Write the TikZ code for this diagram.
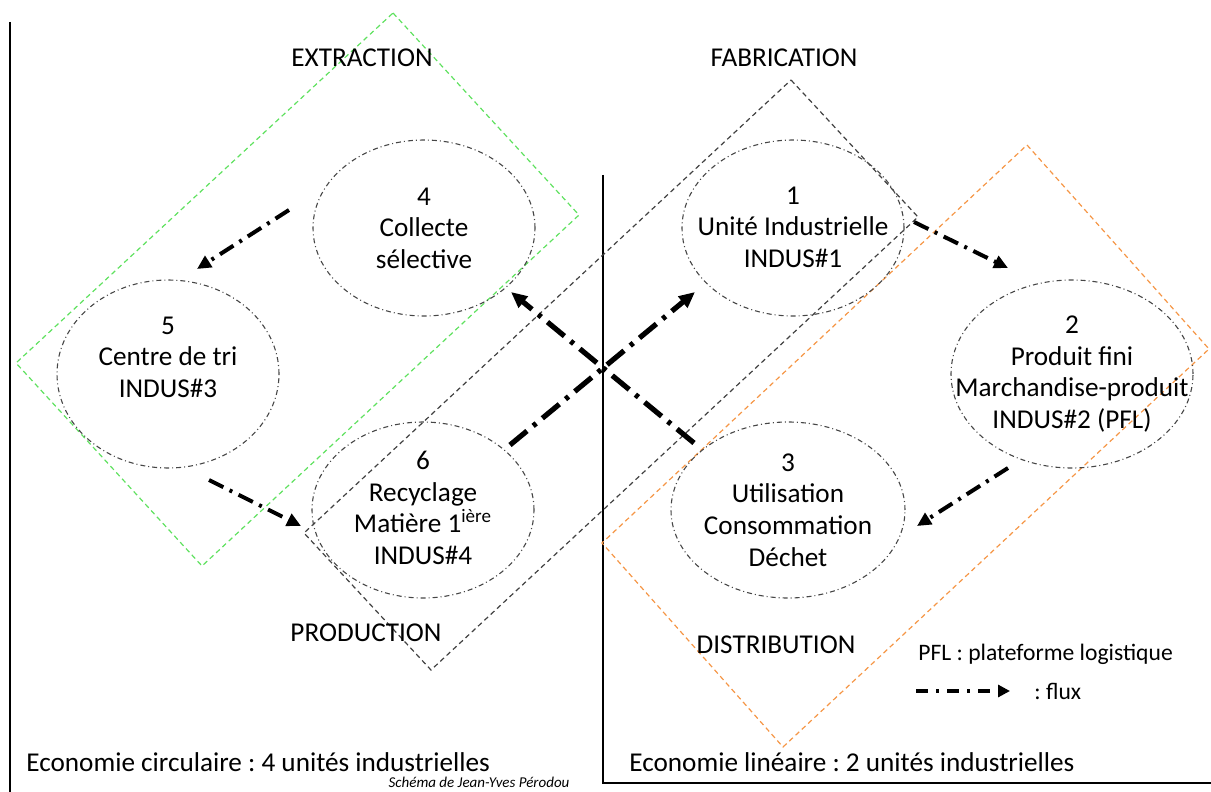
\documentclass[tikz,border=0pt]{standalone}
\usepackage{fontspec}
\setmainfont{Carlito}
\frenchspacing
\usetikzlibrary{arrows.meta,shapes.geometric}
\definecolor{gzone}{RGB}{95,225,95}
\definecolor{ozone}{RGB}{245,150,70}
\definecolor{kzone}{RGB}{65,65,65}
\definecolor{ell}{RGB}{70,70,70}
\tikzset{
  zone/.style={line width=0.6pt, dash pattern=on 2.5pt off 1.8pt},
  unit/.style={draw=ell, ellipse, line width=0.55pt, dash pattern=on 2.5pt off 1.5pt on 0.5pt off 1.5pt, inner sep=0pt},
  lbl/.style={align=center, font=\fontsize{13.6}{15.8}\selectfont, inner sep=0pt},
  hdr/.style={font=\fontsize{13.6}{15}\selectfont, inner sep=0pt},
  flux/.style={line width=2pt, dash pattern=on 8pt off 3.5pt on 1.5pt off 3.5pt, -{Triangle[length=7pt,width=6.5pt]}},
  fluxb/.style={line width=2.6pt, dash pattern=on 11pt off 4pt on 2pt off 4pt, -{Triangle[length=8pt,width=7pt]}},
  frame/.style={line width=1pt, black}
}
\begin{document}
\begin{tikzpicture}[x=0.5pt,y=-0.5pt]
\useasboundingbox (0,0) rectangle (1211,792);
\clip (0,0) rectangle (1211,792);
% frames
\coordinate (fl1) at (10,22); \coordinate (fl2) at (10,792);
\draw[frame] (fl1) -- (fl2);
\coordinate (fr1) at (603,175); \coordinate (fr2) at (603,783); \coordinate (fr3) at (1211,783);
\draw[frame] (fr1) -- (fr2) -- (fr3);
% zones
\draw[zone, draw=gzone] (393,13) -- (579,215) -- (202,566) -- (16,363) -- cycle;
\draw[zone, draw=kzone] (791,80) -- (918,217) -- (431,670) -- (304,533) -- cycle;
\draw[zone, draw=ozone] (1027,145) -- (1209,349) -- (783,747) -- (602,543) -- cycle;
% zone titles
\node[hdr] (extr) at (362,58) {EXTRACTION};
\node[hdr] (fabr) at (784,58) {FABRICATION};
\node[hdr] (prod) at (366,633) {PRODUCTION};
\node[hdr] (dist) at (776,645) {DISTRIBUTION};
% units
\node[unit, minimum width=111pt, minimum height=88pt] (e4) at (424,228) {};
\node[lbl] (t4) at (424,228) {4\\Collecte\\sélective};
\node[unit, minimum width=111pt, minimum height=94pt] (e5) at (168,374) {};
\node[lbl] (t5) at (168,357) {5\\Centre de tri\\INDUS\#3};
\node[unit, minimum width=111pt, minimum height=88pt] (e6) at (423,510) {};
\node[lbl] (t6) at (423,508) {6\\Recyclage\\Matière 1\textsuperscript{ière}\\INDUS\#4};
\node[unit, minimum width=111pt, minimum height=88pt] (e1) at (793,228) {};
\node[lbl] (t1) at (793,227) {1\\Unité Industrielle\\INDUS\#1};
\node[unit, minimum width=121pt, minimum height=94pt] (e2) at (1072,374) {};
\node[lbl] (t2) at (1072,374) {2\\Produit fini\\Marchandise-produit\\INDUS\#2 (PFL)};
\node[unit, minimum width=117pt, minimum height=88pt] (e3) at (788,510) {};
\node[lbl] (t3) at (788,510) {3\\Utilisation\\Consommation\\Déchet};
% flux endpoints
\coordinate (a45) at (289,210); \coordinate (b45) at (197,269);
\coordinate (a56) at (209,480); \coordinate (b56) at (301,526);
\coordinate (a61) at (510,445); \coordinate (b61) at (695,292);
\coordinate (a34) at (694,443); \coordinate (b34) at (511,292);
\coordinate (a12) at (914,222); \coordinate (b12) at (1008,268);
\coordinate (a23) at (1008,468); \coordinate (b23) at (917,526);
\draw[flux] (a45) -- (b45);
\draw[flux] (a56) -- (b56);
\draw[fluxb] (a61) -- (b61);
\draw[fluxb] (a34) -- (b34);
\draw[flux] (a12) -- (b12);
\draw[flux] (a23) -- (b23);
% legend
\node[hdr, anchor=west, font=\fontsize{11.8}{13}\selectfont] (pfl) at (918,654) {PFL : plateforme logistique};
\coordinate (lg1) at (916,691); \coordinate (lg2) at (1010,691);
\draw[line width=2pt, dash pattern=on 6pt off 4pt on 1.5pt off 4pt, -{Triangle[length=6pt,width=6pt]}] (lg1) -- (lg2);
\node[hdr, anchor=west, font=\fontsize{11.8}{13}\selectfont] (flx) at (1034,691) {: flux};
% captions
\node[hdr, anchor=west] (circ) at (26,762) {Economie circulaire : 4 unités industrielles};
\node[hdr, anchor=west] (lin) at (629,762) {Economie linéaire : 2 unités industrielles};
\node[inner sep=0pt, anchor=base, font=\fontsize{7.5}{9}\selectfont\itshape] (auth) at (479,787) {Schéma de Jean-Yves Pérodou};
\end{tikzpicture}
\end{document}
